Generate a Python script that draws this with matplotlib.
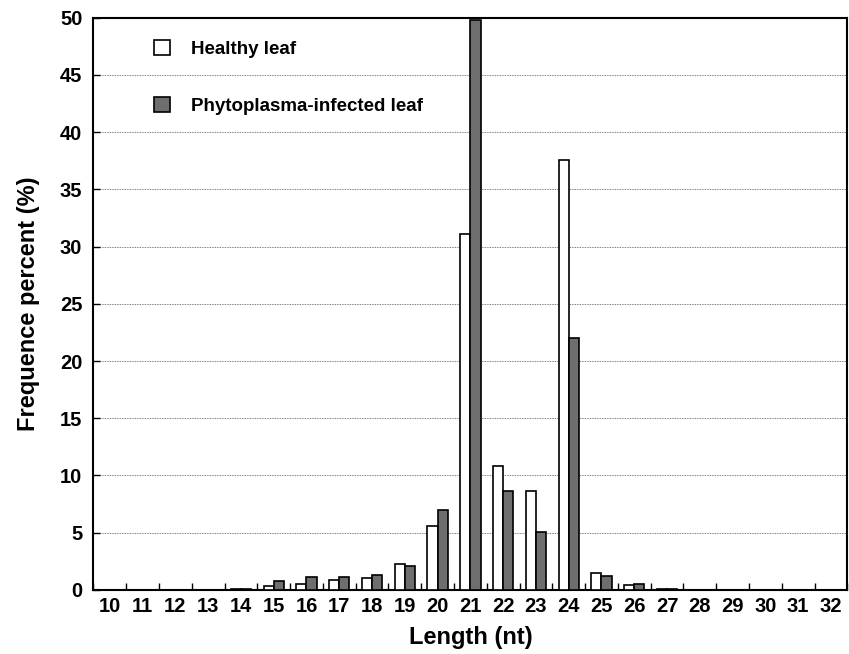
import matplotlib.pyplot as plt
import numpy as np
from matplotlib.patches import Patch

plt.rcParams['font.family'] = ['Liberation Sans', 'DejaVu Sans']
plt.rcParams['font.weight'] = 'bold'

lengths = list(range(10, 33))
healthy = [0, 0, 0, 0, 0.05, 0.35, 0.55, 0.85, 1.0, 2.25, 5.6, 31.1, 10.8, 8.6, 37.6,
           1.5, 0.4, 0.05, 0, 0, 0, 0, 0]
infected = [0, 0, 0, 0, 0.1, 0.8, 1.15, 1.15, 1.3, 2.1, 7.0, 49.8, 8.6, 5.1, 22.0,
            1.25, 0.5, 0.1, 0, 0, 0, 0, 0]

fig = plt.figure(figsize=(8.49, 6.54), dpi=100)
ax = fig.add_axes([0.110, 0.098, 0.888, 0.875])

x = np.arange(len(lengths))
w = 0.31
ax.bar(x - w / 2, healthy, w, color='white', edgecolor='black', linewidth=1.2, zorder=3)
ax.bar(x + w / 2, infected, w, color='#6e6e6e', edgecolor='black', linewidth=1.2, zorder=3)

ax.set_xlim(-0.5, len(lengths) - 0.5)
ax.set_ylim(0, 50)
ax.set_yticks(np.arange(0, 51, 5))
ax.yaxis.grid(True, linestyle=(0, (1, 1)), color='#555555', linewidth=0.6, zorder=0)

ax.set_xticks(x)
ax.set_xticklabels([str(v) for v in lengths])
ax.set_xticks(np.arange(-0.5, len(lengths), 1), minor=True)
ax.tick_params(axis='x', which='major', length=0, labelsize=14.5, pad=5)
ax.tick_params(axis='x', which='minor', direction='in', length=5, width=1)
ax.tick_params(axis='y', direction='in', length=5, width=1, labelsize=14.5, pad=8)

for s in ax.spines.values():
    s.set_linewidth(1.5)

ax.set_xlabel('Length (nt)', fontsize=17, fontweight='bold', labelpad=7)
ax.set_ylabel('Frequence percent (%)', fontsize=17, fontweight='bold', labelpad=14)

handles = [Patch(facecolor='white', edgecolor='black', linewidth=1.2),
           Patch(facecolor='#6e6e6e', edgecolor='black', linewidth=1.2)]
ax.legend(handles, ['Healthy leaf', 'Phytoplasma-infected leaf'], loc='upper left',
          bbox_to_anchor=(0.058, 0.99), frameon=False, handlelength=0.85, handleheight=0.85,
          handletextpad=1.1, labelspacing=2.05, prop={'size': 13.5, 'weight': 'bold'})

fig.savefig('out.png', dpi=100)
